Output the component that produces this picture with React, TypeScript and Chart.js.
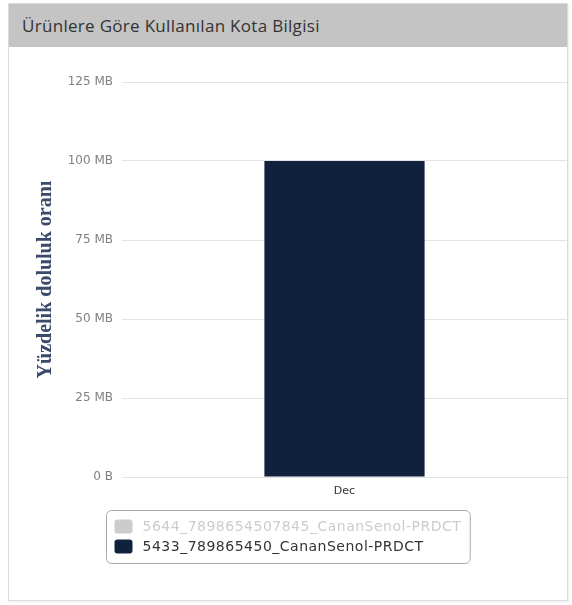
import React, { useEffect, useRef } from "react";
import { Chart, registerables } from "chart.js";

Chart.register(...registerables);

const chartTitle = "Ürünlere Göre Kullanılan Kota Bilgisi";
const yAxisTitle = "Yüzdelik doluluk oranı";
const categories = ["Dec"];
const seriesNames = ["5644_7898654507845_CananSenol-PRDCT", "5433_789865450_CananSenol-PRDCT"];
const seriesColors = ["#c8c8c8", "#0f213d"];
const seriesHidden = [true, false];
const hiddenSeriesValues = [0];
const visibleSeriesValues = [100];
const yMin = 0;
const yMax = 125;
const yStep = 25;

const legendBoxPlugin = {
  id: "legendBox",
  afterDraw(chart: any) {
    const ctx = chart.ctx;
    const font = "14px 'DejaVu Sans'";
    ctx.save();
    ctx.font = font;
    try { (ctx as any).letterSpacing = "0.5px"; } catch (e) {}
    const ds = chart.data.datasets;
    let maxW = 0;
    ds.forEach((d: any) => { maxW = Math.max(maxW, ctx.measureText(d.label).width); });
    const padX = 9, sym = 18, gap = 9, rowH = 20;
    const boxW = padX + sym + gap + maxW + padX;
    const boxH = ds.length * rowH + 13;
    const boxX = Math.round((chart.width - boxW) / 2) + 0.5;
    const boxY = Math.round(chart.chartArea.bottom + 33) + 0.5;
    ctx.beginPath();
    ctx.roundRect(boxX, boxY, boxW, boxH, 5);
    ctx.fillStyle = "#ffffff";
    ctx.fill();
    ctx.strokeStyle = "#a8a8a8";
    ctx.lineWidth = 1;
    ctx.stroke();
    ds.forEach((d: any, i: number) => {
      const hidden = !chart.isDatasetVisible(i);
      const cy = boxY + 16 + i * rowH;
      ctx.beginPath();
      ctx.roundRect(boxX + padX - 1, cy - 7, sym, 14, 3);
      ctx.fillStyle = hidden ? "#cccccc" : d.backgroundColor;
      ctx.fill();
      ctx.fillStyle = hidden ? "#cccccc" : "#333333";
      ctx.textBaseline = "middle";
      ctx.textAlign = "left";
      ctx.fillText(d.label, boxX + padX + sym + gap, cy + 1);
    });
    ctx.restore();
  },
};

export default function App() {
  const ref = useRef<HTMLCanvasElement | null>(null);
  useEffect(() => {
    if (!ref.current) return;
    const chart = new Chart(ref.current, {
      type: "bar",
      data: {
        labels: categories,
        datasets: [
          { label: seriesNames[0], data: hiddenSeriesValues, backgroundColor: seriesColors[0], hidden: seriesHidden[0] },
          { label: seriesNames[1], data: visibleSeriesValues, backgroundColor: seriesColors[1], hidden: seriesHidden[1] },
        ],
      },
      options: {
        animation: false,
        responsive: true,
        maintainAspectRatio: false,
        layout: { padding: { top: 35, right: 0, bottom: 0, left: 0 } },
        datasets: { bar: { barPercentage: 0.45, categoryPercentage: 0.8 } },
        plugins: { legend: { display: false }, tooltip: { enabled: false } },
        scales: {
          x: {
            grid: { display: false, drawTicks: false },
            border: { display: false },
            ticks: { color: "#333", font: { family: "'DejaVu Sans'", size: 11 }, padding: 8 },
            afterFit: (s: any) => { s.height = 122; },
          },
          y: {
            min: yMin,
            max: yMax,
            grid: { color: "#e4e4e4", drawTicks: false },
            border: { display: false },
            ticks: {
              stepSize: yStep,
              color: "#808080",
              padding: 9,
              font: { family: "'DejaVu Sans'", size: 12 },
              callback: (v: any) => (Number(v) === 0 ? "0 B" : v + " MB"),
            },
            title: {
              display: true,
              text: yAxisTitle,
              color: "#3b4a68",
              font: { family: "'Liberation Serif'", size: 20, weight: "bold" },
              padding: { top: 25, bottom: 0 },
            },
            afterFit: (s: any) => { s.width = 113; },
          },
        },
      },
      plugins: [legendBoxPlugin],
    });
    return () => chart.destroy();
  }, []);

  return (
    <div
      style={{
        position: "absolute",
        left: 8,
        top: 3,
        width: 558,
        height: 596,
        border: "1px solid #dcdcdc",
        background: "#fff",
        boxShadow: "1px 1px 2px rgba(0,0,0,0.08)",
      }}
    >
      <div
        style={{
          height: 43,
          background: "#c4c4c4",
          fontFamily: "'Open Sans', sans-serif",
          fontSize: 17,
          letterSpacing: 0.3,
          color: "#333",
          lineHeight: "43px",
          paddingLeft: 13,
        }}
      >
        {chartTitle}
      </div>
      <div style={{ position: "relative", width: 558, height: 552 }}>
        <canvas ref={ref} />
      </div>
    </div>
  );
}
